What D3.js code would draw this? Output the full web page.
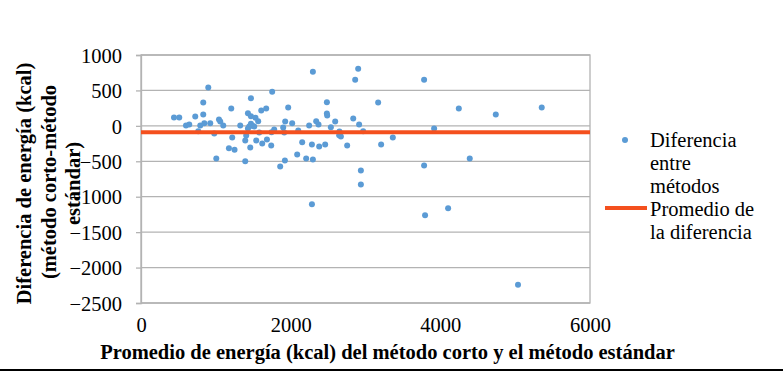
<!DOCTYPE html>
<html>
<head>
<meta charset="utf-8">
<script src="https://cdn.jsdelivr.net/npm/d3@7"></script>
<style>
  body { margin: 0; background: #fff; }
  text { font-family: "Liberation Serif", "Times New Roman", serif; }
</style>
</head>
<body>
<div id="chart"></div>
<script>
// Average of both methods (kcal)
const avgEnergy = [441, 511, 601, 645, 725, 765, 792, 832, 832, 846, 899, 925, 979, 1006, 1042, 1059,
  1099, 1175, 1206, 1219, 1250, 1326, 1393, 1393, 1406, 1429, 1429, 1460, 1469, 1469, 1446, 1469,
  1490, 1513, 1530, 1540, 1566, 1580, 1607, 1620, 1673, 1683, 1740, 1753, 1744, 1780, 1860, 1900,
  1914, 1923, 1927, 1967, 2020, 2087, 2101, 2154, 2207, 2247, 2284, 2297, 2297, 2341, 2372, 2381,
  2461, 2484, 2484, 2488, 2537, 2595, 2652, 2648, 2671, 2755, 2836, 2862, 2902, 2915, 2938, 2938,
  2969, 3169, 3209, 3365, 3783, 3783, 3917, 4247, 4393, 4741, 5355, 2284, 3796, 4104, 5038];
// Difference short - standard (kcal)
const diffEnergy = [117, 117, 4, 18, 131, -76, 4, 328, 159, 37, 543, 37, -108, -460, 89, 61,
  4, -315, 244, -165, -338, 4, -207, -498, -137, 177, -38, -306, 389, 135, -10, 28,
  0, -10, 113, -207, 65, -94, 215, -249, 244, -193, -277, 483, -90, -52, -573, -24,
  -94, -489, 61, 258, 37, -404, -66, -231, -460, 4, -263, 765, -474, 65, 18, -291,
  -263, 332, 173, 145, -20, 61, -80, -132, -151, -277, 103, 652, 807, 18, -629, -827,
  -76, 328, -263, -165, 652, -559, -38, 244, -460, 159, 258, -1108, -1263, -1164, -2244];
const meanDiff = -90;
const xTicks = [0, 2000, 4000, 6000];
const yTicks = [1000, 500, 0, -500, -1000, -1500, -2000, -2500];
const legendLabels = [["Diferencia", "entre", "métodos"], ["Promedio de", "la diferencia"]];

const W = 783, H = 372;
const plot = { left: 141, right: 590, top: 55, bottom: 303 };
const blue = "#5b9bd5", red = "#f4501e";
const fs = 20.5;

const svg = d3.select("#chart").append("svg")
  .attr("width", W).attr("height", H);

const x = d3.scaleLinear().domain([0, 6000]).range([plot.left, plot.right]);
const y = d3.scaleLinear().domain([-2500, 1000]).range([plot.bottom, plot.top]);

// gridlines
svg.append("g").selectAll("line").data(yTicks).enter().append("line")
  .attr("x1", plot.left).attr("x2", plot.right)
  .attr("y1", d => y(d)).attr("y2", d => y(d))
  .attr("stroke", "#b3b3b3").attr("stroke-width", 1.3);

// plot border
svg.append("rect")
  .attr("x", plot.left).attr("y", plot.top)
  .attr("width", plot.right - plot.left).attr("height", plot.bottom - plot.top)
  .attr("fill", "none").attr("stroke", "#b3b3b3").attr("stroke-width", 1.3);

// y axis
const yAxis = svg.append("g")
  .attr("transform", `translate(${plot.left},0)`)
  .call(d3.axisLeft(y).tickValues(yTicks).tickSize(5).tickPadding(14).tickFormat(d3.format("d")));
yAxis.select(".domain").attr("stroke", "#b3b3b3").attr("stroke-width", 1.3);
yAxis.selectAll(".tick line").attr("stroke", "#b3b3b3").attr("stroke-width", 1.3);
yAxis.selectAll("text").attr("font-size", fs).attr("fill", "#000").attr("dy", "0.35em");

// x axis
const xAxis = svg.append("g")
  .attr("transform", `translate(0,${plot.bottom})`)
  .call(d3.axisBottom(x).tickValues(xTicks).tickSize(0).tickPadding(14).tickFormat(d3.format("d")));
xAxis.select(".domain").remove();
xAxis.selectAll("text").attr("font-size", fs).attr("fill", "#000");

// points
const pts = avgEnergy.map((v, i) => ({ x: v, y: diffEnergy[i] }));
svg.append("g").selectAll("circle").data(pts).enter().append("circle")
  .attr("cx", d => x(d.x)).attr("cy", d => y(d.y))
  .attr("r", 3).attr("fill", blue);

// mean line
svg.append("line")
  .attr("x1", x(0)).attr("x2", x(6000))
  .attr("y1", y(meanDiff)).attr("y2", y(meanDiff))
  .attr("stroke", red).attr("stroke-width", 4);

// axis titles
svg.append("text")
  .attr("x", 387.5).attr("y", 359)
  .attr("text-anchor", "middle").attr("font-size", fs).attr("font-weight", "bold")
  .text("Promedio de energía (kcal) del método corto y el método estándar");

const yTitle = [
  { t: "Diferencia de energía (kcal)", x: 24, y: 183.5 },
  { t: "(método corto-método", x: 48.5, y: 182 },
  { t: "estándar)", x: 73, y: 183.5 }
];
svg.append("g").selectAll("text").data(yTitle).enter().append("text")
  .attr("transform", d => `translate(${d.x},${d.y}) rotate(-90)`)
  .attr("text-anchor", "middle").attr("dy", "0.35em")
  .attr("font-size", fs).attr("font-weight", "bold")
  .text(d => d.t);

// legend
svg.append("circle").attr("cx", 625).attr("cy", 140).attr("r", 3).attr("fill", blue);
svg.append("line").attr("x1", 605).attr("x2", 647).attr("y1", 208).attr("y2", 208)
  .attr("stroke", red).attr("stroke-width", 4);
const legLines = legendLabels[0].concat(legendLabels[1]);
svg.append("g").selectAll("text").data(legLines).enter().append("text")
  .attr("x", 650).attr("y", (d, i) => 140 + i * 23)
  .attr("dy", "0.35em").attr("font-size", fs)
  .text(d => d);

// frame line at the bottom
svg.append("line").attr("x1", 0).attr("x2", W).attr("y1", 370).attr("y2", 370)
  .attr("stroke", "#000").attr("stroke-width", 2);
</script>
</body>
</html>
